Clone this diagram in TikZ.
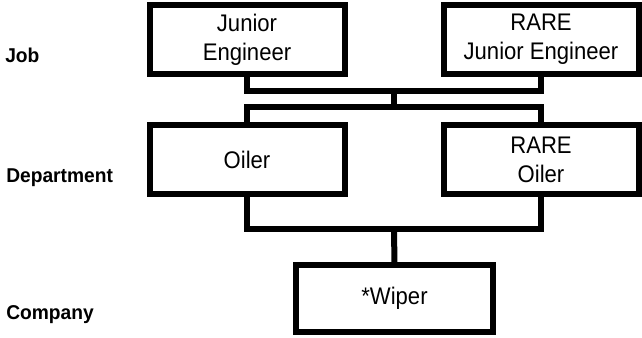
\documentclass[tikz,border=0pt]{standalone}
\usepackage{fontspec}
\setmainfont{Liberation Sans}
\newfontfamily\boxfont[FakeStretch=0.92]{Liberation Sans}
\newfontfamily\lblfont[FakeStretch=0.96]{Liberation Sans}
\begin{document}
\begin{tikzpicture}[x=0.75pt,y=-0.75pt,
  box/.style={draw=black, line width=4.5pt, rectangle, inner sep=0pt, outer sep=0pt,
    minimum width=146.25pt, minimum height=51.75pt, align=center,
    font=\boxfont\fontsize{18}{21.75}\selectfont},
  lbl/.style={anchor=base west, inner sep=0pt, font=\lblfont\bfseries\fontsize{15}{17}\selectfont},
  conn/.style={draw=black, line width=4.5pt, line join=miter}]
\useasboundingbox (0,0) rectangle (642,337);
% boxes
\node[box] (je)  at (247,39.5) {Junior\\Engineer};
\node[box] (rje) at (541,39.5) {RARE\\Junior Engineer};
\node[box] (oil)  at (247,159.5) {Oiler};
\node[box] (roil) at (541,159.5) {RARE\\Oiler};
\node[box, minimum width=147.75pt, minimum height=50.25pt] (wip) at (394.5,298.5) {*Wiper};
% labels
\node[lbl] (ljob) at (5,62) {Job};
\node[lbl] (ldep) at (6,182) {Department};
\node[lbl] (lcom) at (6,319) {Company};
% junctions
\coordinate (j1) at (394,91);
\coordinate (j2) at (394,107);
\coordinate (j3) at (394,229);
% connectors
\draw[conn] (je.south) |- (j1) -| (rje.south);
\draw[conn] (j1) -- (j2);
\draw[conn] (oil.north) |- (j2) -| (roil.north);
\draw[conn] (oil.south) |- (j3) -| (roil.south);
\draw[conn] (j3) -- (wip.north);
\end{tikzpicture}
\end{document}
